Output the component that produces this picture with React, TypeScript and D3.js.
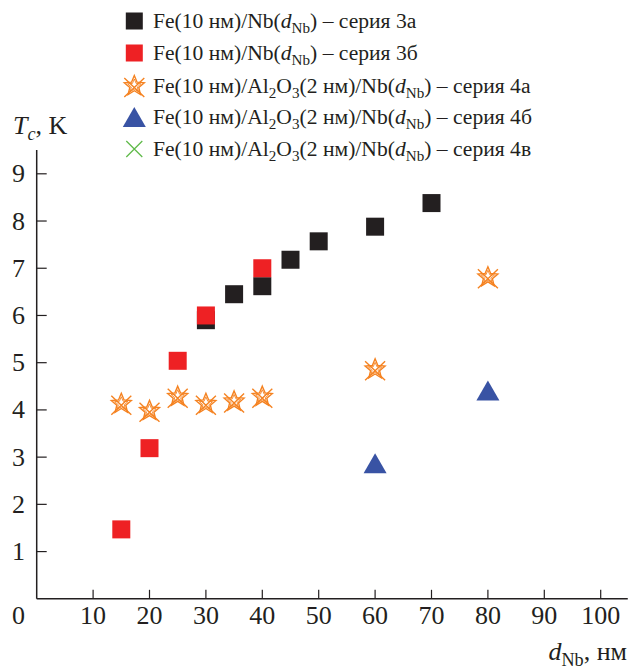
import React, { useEffect, useRef } from "react";
import * as d3 from "d3";

// series 3a / 3b : Fe(10 nm)/Nb(dNb)
const dNb3a = [30, 35, 40, 45, 50, 60, 70];
const tc3a = [5.9, 6.45, 6.62, 7.18, 7.57, 7.88, 8.38];
const dNb3b = [15, 20, 25, 30, 40];
const tc3b = [1.47, 3.19, 5.04, 6.0, 7.0];
// series 4a / 4b / 4v : Fe(10 nm)/Al2O3(2 nm)/Nb(dNb)
const dNb4a = [15, 20, 25, 30, 35, 40, 60, 80];
const tc4a = [4.13, 3.98, 4.28, 4.13, 4.18, 4.28, 4.86, 6.81];
const dNb4b = [60, 80];
const tc4b = [2.87, 4.41];
const dNb4v: number[] = [];
const tc4v: number[] = [];

const xTicks = [10, 20, 30, 40, 50, 60, 70, 80, 90, 100];
const yTicks = [1, 2, 3, 4, 5, 6, 7, 8, 9];
const legendLabels = ["серия 3а", "серия 3б", "серия 4а", "серия 4б", "серия 4в"];

const FONT = "Liberation Serif, Tinos, Times New Roman, DejaVu Serif, serif";
const AXIS = "#231f20";

type Seg = { t: string; it?: boolean; sub?: boolean };

const richText = (g: any, segs: Seg[], size: number) => {
  let shifted = false;
  segs.forEach((s) => {
    const ts = g.append("tspan").text(s.t);
    if (s.it) ts.attr("font-style", "italic");
    if (s.sub && !shifted) {
      ts.attr("dy", size * 0.22).attr("font-size", size * 0.7);
      shifted = true;
    } else if (s.sub) {
      ts.attr("font-size", size * 0.7);
    } else if (shifted) {
      ts.attr("dy", -size * 0.22);
      shifted = false;
    }
  });
};

const starPath = (r: number) => {
  const pts: [number, number][] = [];
  for (let i = 0; i < 10; i++) {
    const a = -Math.PI / 2 + (i * Math.PI) / 5;
    const rr = i % 2 === 0 ? r : r * 0.45;
    pts.push([rr * Math.cos(a), rr * Math.sin(a)]);
  }
  return "M" + pts.map((p) => p.join(",")).join("L") + "Z";
};

const drawStar = (g: any, cx: number, cy: number) => {
  const s = g.append("g").attr("transform", `translate(${cx},${cy})`)
    .attr("fill", "none").attr("stroke", "#f58220").attr("stroke-width", 1.4);
  s.append("path").attr("d", starPath(10.5));
  s.append("path").attr("d", starPath(7)).attr("stroke-width", 0.9);
  s.append("path").attr("d", "M-10,-8L10,11M10,-8L-10,11");
};

const App = () => {
  const svgRef = useRef<SVGSVGElement>(null);

  useEffect(() => {
    const w = 641;
    const h = 669;
    const svg = d3.select(svgRef.current).attr("width", w).attr("height", h);
    svg.selectAll("*").remove();

    const xScale = d3.scaleLinear().domain([0, 100]).range([36.7, 600.7]);
    const yScale = d3.scaleLinear().domain([0, 9]).range([598.8, 173.8]);

    // axes
    const ax = svg.append("g").attr("stroke", AXIS).attr("stroke-width", 1.5);
    ax.append("line").attr("x1", xScale(0)).attr("x2", xScale(0))
      .attr("y1", 150).attr("y2", yScale(0));
    ax.append("line").attr("x1", xScale(0)).attr("x2", xScale(104.8))
      .attr("y1", yScale(0)).attr("y2", yScale(0));
    ax.selectAll(".xt").data(xTicks).join("line")
      .attr("x1", (d) => xScale(d)).attr("x2", (d) => xScale(d))
      .attr("y1", yScale(0)).attr("y2", yScale(0) - 9).attr("stroke-width", 1.2);
    ax.selectAll(".yt").data(yTicks).join("line")
      .attr("x1", xScale(0)).attr("x2", xScale(0) + 10)
      .attr("y1", (d) => yScale(d)).attr("y2", (d) => yScale(d)).attr("stroke-width", 1.2);

    const fs = 26;
    const lab = svg.append("g").attr("font-family", FONT).attr("font-size", fs).attr("fill", AXIS);
    lab.selectAll(".xl").data(xTicks).join("text")
      .attr("x", (d) => xScale(d)).attr("y", 624)
      .attr("text-anchor", "middle").text((d) => d);
    lab.selectAll(".yl").data(yTicks).join("text")
      .attr("x", 18.5).attr("y", (d) => yScale(d) + 8.5)
      .attr("text-anchor", "middle").text((d) => d);
    lab.append("text").attr("x", 18.5).attr("y", 624)
      .attr("text-anchor", "middle").text("0");

    const tTitle = svg.append("text").attr("x", 13).attr("y", 134)
      .attr("font-family", FONT).attr("font-size", fs).attr("fill", AXIS);
    richText(tTitle, [{ t: "T", it: true }, { t: "c", it: true, sub: true }, { t: ", K" }], fs);
    const xTitle = svg.append("text").attr("x", 627).attr("y", 660)
      .attr("text-anchor", "end")
      .attr("font-family", FONT).attr("font-size", fs).attr("fill", AXIS);
    richText(xTitle, [{ t: "d", it: true }, { t: "Nb", sub: true }, { t: ", нм" }], fs);

    // data
    const sq = 18;
    const plot = svg.append("g");
    plot.selectAll(".s3a").data(dNb3a.map((d, i) => [d, tc3a[i]])).join("rect")
      .attr("x", (d) => xScale(d[0]) - sq / 2).attr("y", (d) => yScale(d[1]) - sq / 2)
      .attr("width", sq).attr("height", sq).attr("fill", "#231f20");
    plot.selectAll(".s3b").data(dNb3b.map((d, i) => [d, tc3b[i]])).join("rect")
      .attr("x", (d) => xScale(d[0]) - sq / 2).attr("y", (d) => yScale(d[1]) - sq / 2)
      .attr("width", sq).attr("height", sq).attr("fill", "#ee2124");
    dNb4a.forEach((d, i) => drawStar(plot, xScale(d), yScale(tc4a[i])));
    const tri = "M0,-10L11.5,10L-11.5,10Z";
    plot.selectAll(".s4b").data(dNb4b.map((d, i) => [d, tc4b[i]])).join("path")
      .attr("d", tri).attr("transform", (d) => `translate(${xScale(d[0])},${yScale(d[1])})`)
      .attr("fill", "#3953a4");
    plot.selectAll(".s4v").data(dNb4v.map((d, i) => [d, tc4v[i]])).join("path")
      .attr("d", "M-8,-8L8,8M8,-8L-8,8")
      .attr("transform", (d) => `translate(${xScale(d[0])},${yScale(d[1])})`)
      .attr("stroke", "#5cb946").attr("stroke-width", 1.2);

    // legend
    const lx = 134.3;
    const rows = [21, 53, 86, 117, 149];
    const lg = svg.append("g");
    lg.append("rect").attr("x", lx - 8.5).attr("y", rows[0] - 8.5).attr("width", 17).attr("height", 17).attr("fill", "#231f20");
    lg.append("rect").attr("x", lx - 8.5).attr("y", rows[1] - 8.5).attr("width", 17).attr("height", 17).attr("fill", "#ee2124");
    drawStar(lg, lx, rows[2]);
    lg.append("path").attr("d", tri).attr("transform", `translate(${lx},${rows[3]})`).attr("fill", "#3953a4");
    lg.append("path").attr("d", "M-8,-8L8,8M8,-8L-8,8").attr("transform", `translate(${lx},${rows[4]})`)
      .attr("stroke", "#5cb946").attr("stroke-width", 1.2);

    const lfs = 21.6;
    legendLabels.forEach((name, i) => {
      const t = lg.append("text").attr("x", 153).attr("y", rows[i] + 7)
        .attr("font-family", FONT).attr("font-size", lfs).attr("fill", AXIS);
      const segs: Seg[] = i < 2
        ? [{ t: "Fe(10 нм)/Nb(" }, { t: "d", it: true }, { t: "Nb", sub: true }, { t: ") – " + name }]
        : [{ t: "Fe(10 нм)/Al" }, { t: "2", sub: true }, { t: "O" }, { t: "3", sub: true }, { t: "(2 нм)/Nb(" },
           { t: "d", it: true }, { t: "Nb", sub: true }, { t: ") – " + name }];
      richText(t, segs, lfs);
    });
  }, []);

  return <svg ref={svgRef} style={{ position: "absolute", left: 0, top: 0 }} />;
};

export default App;
